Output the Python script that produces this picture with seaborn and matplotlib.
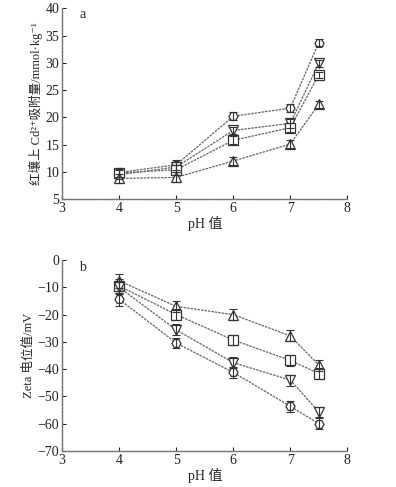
import numpy as np
import pandas as pd
import matplotlib
matplotlib.use("Agg")
import matplotlib.pyplot as plt
import seaborn as sns

# ── Data ──────────────────────────────────────────────────────────────────────
ph = [4, 5, 6, 7, 7.5]
series_names = ["s1", "s2", "s3", "s4"]

# panel a: Cd2+ adsorption (mmol/kg)
ads_hex   = [9.9, 11.3, 20.2, 21.7, 33.7]
ads_down  = [9.5, 10.9, 17.6, 18.9, 29.9]
ads_sq    = [9.8, 10.4, 15.8, 18.1, 27.8]
ads_up    = [8.8, 9.0, 12.0, 15.1, 22.4]
ads_err   = [0.8, 0.9, 0.7, 0.8, 0.6]

# panel b: zeta potential (mV)
zeta_up   = [-7.6, -17.0, -20.0, -27.8, -38.5]
zeta_sq   = [-9.5, -20.0, -29.3, -36.8, -41.6]
zeta_down = [-10.0, -25.6, -37.6, -44.0, -55.7]
zeta_hex  = [-14.4, -30.4, -41.2, -53.6, -60.0]
zeta_err  = [2.5, 2.0, 2.0, 2.0, 2.0]

MARKERS_A = ["H", "v", "s", "^"]
MARKERS_B = ["^", "s", "v", "H"]
LINE_COLOR = "#666666"

sns.set_style("ticks")
plt.rcParams["font.family"] = ["Liberation Serif", "Noto Sans CJK SC", "DejaVu Sans"]


def _panel(ax, values, markers, err):
    rows = []
    for name, vals in zip(series_names, values):
        for x, y in zip(ph, vals):
            rows.append({"pH": x, "val": y, "series": name})
    df = pd.DataFrame(rows)
    sns.lineplot(data=df, x="pH", y="val", hue="series", style="series",
                 palette=[LINE_COLOR] * 4, markers=markers,
                 dashes=[(2, 0.8)] * 4,
                 linewidth=0.9, markersize=6.5, markerfacecolor="white",
                 markeredgecolor="#333333", markeredgewidth=0.9,
                 legend=False, ax=ax)
    for vals in values:
        ax.errorbar(ph, vals, yerr=err, fmt="none", ecolor="#333333",
                    elinewidth=0.8, capsize=3, capthick=0.8)
    ax.set_xlim(3, 8)
    ax.set_xticks([3, 4, 5, 6, 7, 8])
    ax.set_xlabel("pH 值", fontsize=10, labelpad=1)
    ax.tick_params(direction="in", length=3, pad=2, labelsize=10, colors="#222222")
    for side in ["top", "right"]:
        ax.spines[side].set_visible(False)
    for side in ["left", "bottom"]:
        ax.spines[side].set_color("#777777")
        ax.spines[side].set_linewidth(1.0)
        ax.spines[side].set_linestyle((0, (2, 0.6)))


fig = plt.figure(figsize=(3.96, 4.87), dpi=100)
ax_a = fig.add_axes([0.157, 0.591, 0.72, 0.392])
ax_b = fig.add_axes([0.157, 0.074, 0.72, 0.392])

_panel(ax_a, [ads_hex, ads_down, ads_sq, ads_up], MARKERS_A, ads_err)
ax_a.set_ylim(5, 40)
ax_a.set_yticks(range(5, 41, 5))
ax_a.set_ylabel("红壤上 Cd²⁺吸附量/mmol·kg⁻¹", fontsize=9, labelpad=2)
ax_a.text(3.3, 38.2, "a", fontsize=10)

_panel(ax_b, [zeta_up, zeta_sq, zeta_down, zeta_hex], MARKERS_B, zeta_err)
ax_b.set_ylim(-70, 0)
ax_b.set_yticks(range(-70, 1, 10))
ax_b.set_ylabel("Zeta 电位值/mV", fontsize=9, labelpad=2)
ax_b.text(3.3, -4, "b", fontsize=10)

fig.savefig("out.png", dpi=100)
